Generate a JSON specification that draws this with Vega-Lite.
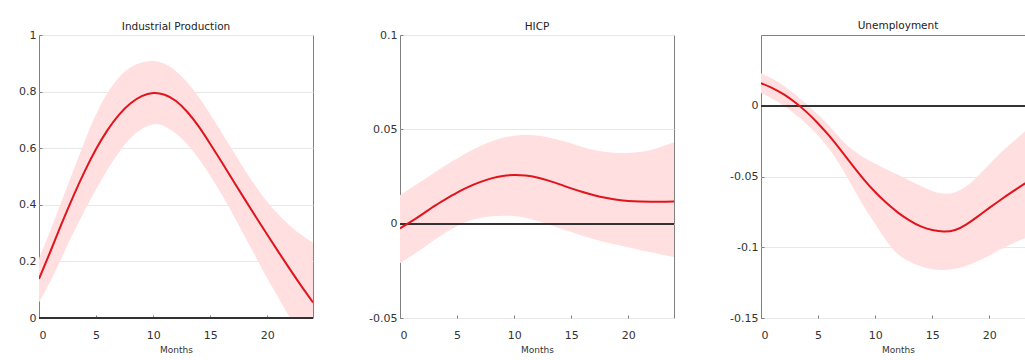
{
  "$schema": "https://vega.github.io/schema/vega-lite/v6.json",
  "background": "white",
  "padding": {"left": 18, "top": 20, "right": 0, "bottom": 0},
  "bounds": "flush",
  "spacing": 87,
  "config": {
    "font": "DejaVu Sans",
    "view": {"stroke": "#808080", "strokeWidth": 1},
    "axis": {
      "labelFont": "DejaVu Sans",
      "labelFontSize": 11,
      "labelColor": "#333333",
      "titleFont": "DejaVu Sans",
      "titleFontSize": 9,
      "titleFontWeight": "normal",
      "titleColor": "#333333",
      "domain": false,
      "ticks": true,
      "tickSize": -3,
      "tickColor": "#808080",
      "gridColor": "#e8e8e8",
      "gridWidth": 1
    },
    "title": {"font": "DejaVu Sans", "fontSize": 10.5, "fontWeight": "normal", "color": "#222222", "frame": "group", "anchor": "middle"}
  },
  "datasets": {
    "ip": [
      {"m": 0, "mid": 0.138, "lo": 0.055, "hi": 0.21},
      {"m": 1, "mid": 0.235, "lo": 0.13, "hi": 0.31},
      {"m": 2, "mid": 0.335, "lo": 0.215, "hi": 0.415},
      {"m": 3, "mid": 0.43, "lo": 0.3, "hi": 0.52},
      {"m": 4, "mid": 0.518, "lo": 0.38, "hi": 0.625},
      {"m": 5, "mid": 0.597, "lo": 0.455, "hi": 0.72},
      {"m": 6, "mid": 0.664, "lo": 0.525, "hi": 0.795},
      {"m": 7, "mid": 0.718, "lo": 0.585, "hi": 0.85},
      {"m": 8, "mid": 0.758, "lo": 0.635, "hi": 0.885},
      {"m": 9, "mid": 0.784, "lo": 0.668, "hi": 0.903},
      {"m": 10, "mid": 0.795, "lo": 0.685, "hi": 0.908},
      {"m": 11, "mid": 0.789, "lo": 0.678, "hi": 0.898},
      {"m": 12, "mid": 0.767, "lo": 0.652, "hi": 0.872},
      {"m": 13, "mid": 0.728, "lo": 0.613, "hi": 0.832},
      {"m": 14, "mid": 0.676, "lo": 0.563, "hi": 0.78},
      {"m": 15, "mid": 0.615, "lo": 0.503, "hi": 0.72},
      {"m": 16, "mid": 0.551, "lo": 0.437, "hi": 0.655},
      {"m": 17, "mid": 0.486, "lo": 0.365, "hi": 0.59},
      {"m": 18, "mid": 0.421, "lo": 0.29, "hi": 0.525},
      {"m": 19, "mid": 0.357, "lo": 0.215, "hi": 0.465},
      {"m": 20, "mid": 0.294, "lo": 0.14, "hi": 0.41},
      {"m": 21, "mid": 0.232, "lo": 0.07, "hi": 0.365},
      {"m": 22, "mid": 0.171, "lo": 0.0, "hi": 0.325},
      {"m": 23, "mid": 0.112, "lo": -0.07, "hi": 0.293},
      {"m": 24, "mid": 0.055, "lo": -0.14, "hi": 0.265}
    ],
    "hicp": [
      {"m": 0, "mid": -0.0025, "lo": -0.021, "hi": 0.015},
      {"m": 1, "mid": 0.0012, "lo": -0.017, "hi": 0.019},
      {"m": 2, "mid": 0.0052, "lo": -0.013, "hi": 0.023},
      {"m": 3, "mid": 0.0093, "lo": -0.0087, "hi": 0.027},
      {"m": 4, "mid": 0.013, "lo": -0.0047, "hi": 0.031},
      {"m": 5, "mid": 0.0165, "lo": -0.0012, "hi": 0.0346},
      {"m": 6, "mid": 0.0195, "lo": 0.0014, "hi": 0.038},
      {"m": 7, "mid": 0.022, "lo": 0.003, "hi": 0.041},
      {"m": 8, "mid": 0.024, "lo": 0.0039, "hi": 0.0435},
      {"m": 9, "mid": 0.0253, "lo": 0.0042, "hi": 0.0455},
      {"m": 10, "mid": 0.0258, "lo": 0.004, "hi": 0.0466},
      {"m": 11, "mid": 0.0255, "lo": 0.003, "hi": 0.047},
      {"m": 12, "mid": 0.0245, "lo": 0.0015, "hi": 0.0467},
      {"m": 13, "mid": 0.0228, "lo": -0.0004, "hi": 0.0457},
      {"m": 14, "mid": 0.0208, "lo": -0.0024, "hi": 0.0442},
      {"m": 15, "mid": 0.0187, "lo": -0.0044, "hi": 0.0425},
      {"m": 16, "mid": 0.0168, "lo": -0.0064, "hi": 0.0406},
      {"m": 17, "mid": 0.0151, "lo": -0.0082, "hi": 0.039},
      {"m": 18, "mid": 0.0137, "lo": -0.0098, "hi": 0.038},
      {"m": 19, "mid": 0.0127, "lo": -0.0112, "hi": 0.0375},
      {"m": 20, "mid": 0.012, "lo": -0.0125, "hi": 0.0375},
      {"m": 21, "mid": 0.0117, "lo": -0.0139, "hi": 0.038},
      {"m": 22, "mid": 0.0116, "lo": -0.0152, "hi": 0.039},
      {"m": 23, "mid": 0.0116, "lo": -0.0165, "hi": 0.041},
      {"m": 24, "mid": 0.0117, "lo": -0.0177, "hi": 0.043}
    ],
    "un": [
      {"m": 0, "mid": 0.016, "lo": 0.009, "hi": 0.023},
      {"m": 1, "mid": 0.0125, "lo": 0.005, "hi": 0.019},
      {"m": 2, "mid": 0.008, "lo": 0.0, "hi": 0.014},
      {"m": 3, "mid": 0.0023, "lo": -0.006, "hi": 0.008},
      {"m": 4, "mid": -0.0045, "lo": -0.013, "hi": 0.0012},
      {"m": 5, "mid": -0.0125, "lo": -0.021, "hi": -0.0063},
      {"m": 6, "mid": -0.0215, "lo": -0.031, "hi": -0.0145},
      {"m": 7, "mid": -0.0315, "lo": -0.043, "hi": -0.0235},
      {"m": 8, "mid": -0.042, "lo": -0.057, "hi": -0.031},
      {"m": 9, "mid": -0.052, "lo": -0.071, "hi": -0.0365},
      {"m": 10, "mid": -0.061, "lo": -0.0835, "hi": -0.041},
      {"m": 11, "mid": -0.0688, "lo": -0.0955, "hi": -0.045},
      {"m": 12, "mid": -0.0755, "lo": -0.105, "hi": -0.0488},
      {"m": 13, "mid": -0.081, "lo": -0.11, "hi": -0.0528},
      {"m": 14, "mid": -0.0853, "lo": -0.1135, "hi": -0.0568},
      {"m": 15, "mid": -0.0878, "lo": -0.1155, "hi": -0.0603},
      {"m": 16, "mid": -0.0889, "lo": -0.116, "hi": -0.0622},
      {"m": 17, "mid": -0.0878, "lo": -0.1152, "hi": -0.0612},
      {"m": 18, "mid": -0.0838, "lo": -0.113, "hi": -0.0568},
      {"m": 19, "mid": -0.0782, "lo": -0.1098, "hi": -0.0496},
      {"m": 20, "mid": -0.0722, "lo": -0.1058, "hi": -0.0413},
      {"m": 21, "mid": -0.0664, "lo": -0.1015, "hi": -0.0333},
      {"m": 22, "mid": -0.0609, "lo": -0.0975, "hi": -0.026},
      {"m": 23, "mid": -0.0556, "lo": -0.094, "hi": -0.019},
      {"m": 24, "mid": -0.0505, "lo": -0.091, "hi": -0.012}
    ]
  },
  "hconcat": [
    {
      "width": 274, "height": 283,
      "title": {"text": "Industrial Production", "offset": -3},
      "data": {"name": "ip"},
      "layer": [
        {"mark": {"type": "area", "color": "#ffdfe0", "interpolate": "natural", "clip": true},
         "encoding": {
           "x": {"field": "m", "type": "quantitative", "scale": {"domain": [0, 24], "nice": false},
                 "axis": {"title": "Months", "values": [0, 5, 10, 15, 20], "grid": false, "labelPadding": 14, "titlePadding": 5}},
           "y": {"field": "lo", "type": "quantitative", "scale": {"domain": [0, 1], "nice": false},
                 "axis": {"title": null, "values": [0, 0.2, 0.4, 0.6, 0.8, 1], "labelExpr": "'' + datum.value", "labelPadding": 6}},
           "y2": {"field": "hi"}}},
        {"mark": {"type": "rule", "color": "#333333", "strokeWidth": 1.5}, "encoding": {"y": {"datum": 0}}},
        {"mark": {"type": "line", "color": "#e0141c", "strokeWidth": 2, "interpolate": "natural", "clip": true},
         "encoding": {"x": {"field": "m", "type": "quantitative"}, "y": {"field": "mid", "type": "quantitative"}}}
      ]
    },
    {
      "width": 274, "height": 283,
      "title": {"text": "HICP", "offset": -3},
      "data": {"name": "hicp"},
      "layer": [
        {"mark": {"type": "area", "color": "#ffdfe0", "interpolate": "natural", "clip": true},
         "encoding": {
           "x": {"field": "m", "type": "quantitative", "scale": {"domain": [0, 24], "nice": false},
                 "axis": {"title": "Months", "values": [0, 5, 10, 15, 20], "grid": false, "labelPadding": 14, "titlePadding": 5}},
           "y": {"field": "lo", "type": "quantitative", "scale": {"domain": [-0.05, 0.1], "nice": false},
                 "axis": {"title": null, "values": [-0.05, 0, 0.05, 0.1], "labelExpr": "'' + datum.value", "labelPadding": 6}},
           "y2": {"field": "hi"}}},
        {"mark": {"type": "rule", "color": "#333333", "strokeWidth": 1.5}, "encoding": {"y": {"datum": 0}}},
        {"mark": {"type": "line", "color": "#e0141c", "strokeWidth": 2, "interpolate": "natural", "clip": true},
         "encoding": {"x": {"field": "m", "type": "quantitative"}, "y": {"field": "mid", "type": "quantitative"}}}
      ]
    },
    {
      "width": 274, "height": 283,
      "title": {"text": "Unemployment", "offset": 4},
      "data": {"name": "un"},
      "layer": [
        {"mark": {"type": "area", "color": "#ffdfe0", "interpolate": "natural", "clip": true},
         "encoding": {
           "x": {"field": "m", "type": "quantitative", "scale": {"domain": [0, 24], "nice": false},
                 "axis": {"title": "Months", "values": [0, 5, 10, 15, 20], "grid": false, "labelPadding": 14, "titlePadding": 5}},
           "y": {"field": "lo", "type": "quantitative", "scale": {"domain": [-0.15, 0.05], "nice": false},
                 "axis": {"title": null, "values": [-0.15, -0.1, -0.05, 0], "labelExpr": "'' + datum.value", "labelPadding": 6}},
           "y2": {"field": "hi"}}},
        {"mark": {"type": "rule", "color": "#333333", "strokeWidth": 1.5}, "encoding": {"y": {"datum": 0}}},
        {"mark": {"type": "line", "color": "#e0141c", "strokeWidth": 2, "interpolate": "natural", "clip": true},
         "encoding": {"x": {"field": "m", "type": "quantitative"}, "y": {"field": "mid", "type": "quantitative"}}}
      ]
    }
  ]
}
